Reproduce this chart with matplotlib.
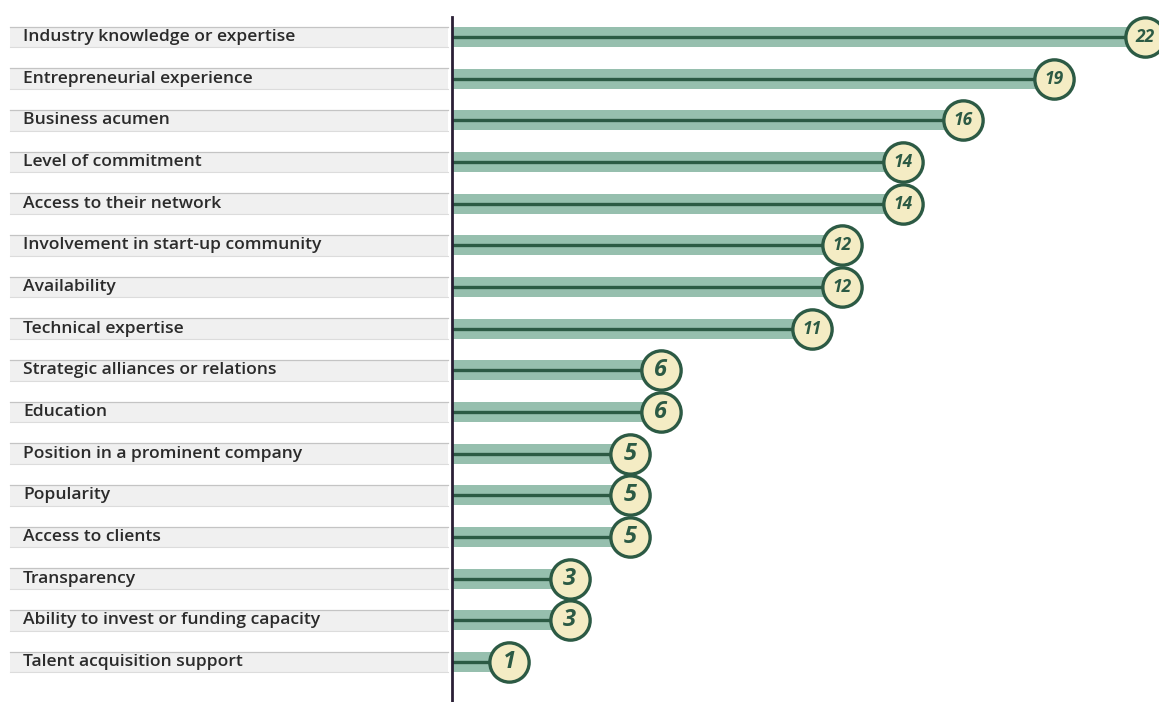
import matplotlib
matplotlib.use("Agg")
import matplotlib.pyplot as plt
from matplotlib.patches import Rectangle
from matplotlib.transforms import blended_transform_factory

plt.rcParams['font.family'] = ['Open Sans', 'DejaVu Sans']

categories = [
    "Industry knowledge or expertise",
    "Entrepreneurial experience",
    "Business acumen",
    "Level of commitment",
    "Access to their network",
    "Involvement in start-up community",
    "Availability",
    "Technical expertise",
    "Strategic alliances or relations",
    "Education",
    "Position in a prominent company",
    "Popularity",
    "Access to clients",
    "Transparency",
    "Ability to invest or funding capacity",
    "Talent acquisition support",
]
counts = [22, 19, 16, 14, 14, 12, 12, 11, 6, 6, 5, 5, 5, 3, 3, 1]

W, H = 1159, 702
bar_fill = "#96bfae"
bar_line = "#2c5a44"
cream = "#f4ecc4"
axis_col = "#2a1f35"

fig = plt.figure(figsize=(W / 100, H / 100), dpi=100)
ax = fig.add_axes([452 / W, 0, (W - 452) / W, 1])

# 0 sits a little right of the axis line, ~30 px per unit
x0_px, px_per = 479.0, 30.27
xmin = (452 - x0_px) / px_per
xmax = (W - x0_px) / px_per
row_top, row_gap = 37.0, 41.67
ax.set_xlim(xmin, xmax)
ax.set_ylim((H - row_top) / row_gap, -row_top / row_gap)

rows = list(range(len(categories)))

# label strips on the left
tr = blended_transform_factory(fig.transFigure, ax.transData)
band_h = 0.5
for i, name in zip(rows, categories):
    ax.add_patch(Rectangle((10 / W, i - band_h / 2), 438 / W, band_h, transform=tr,
                           facecolor="#f0f0f0", edgecolor="none", clip_on=False))
    ax.plot([10 / W, 448 / W], [i - band_h / 2] * 2, transform=tr, color="#c4c4c4",
            lw=0.9, clip_on=False)
    ax.plot([10 / W, 448 / W], [i + band_h / 2] * 2, transform=tr, color="#dcdcdc",
            lw=0.8, clip_on=False)
    ax.text(23 / W, i, name, transform=tr, va="center", ha="left", fontsize=12.6,
            fontweight="semibold", color="#2b2b2b")

# bars with a dark centre line and a value bubble at the end
ax.barh(rows, [v - xmin for v in counts], left=xmin, height=0.48, color=bar_fill,
        edgecolor="none", zorder=2)
ax.hlines(rows, xmin, counts, color=bar_line, lw=2.4, zorder=3)
ax.scatter(counts, rows, s=800, facecolor=cream, edgecolor=bar_line, linewidths=2.4,
           zorder=4, clip_on=False)
for i, v in zip(rows, counts):
    fs = 17 if v < 10 else 12.5
    ax.text(v, i, str(v), ha="center", va="center", fontsize=fs, fontweight="bold",
            fontstyle="italic", color=bar_line, zorder=5)

for s in ["top", "right", "bottom"]:
    ax.spines[s].set_visible(False)
ax.spines["left"].set_color(axis_col)
ax.spines["left"].set_linewidth(2.0)
ax.spines["left"].set_bounds((17 - row_top) / row_gap, (H - row_top) / row_gap)
ax.spines["left"].set_zorder(6)
ax.set_xticks([])
ax.set_yticks([])
ax.patch.set_alpha(0)

fig.savefig("out.png", dpi=100)
